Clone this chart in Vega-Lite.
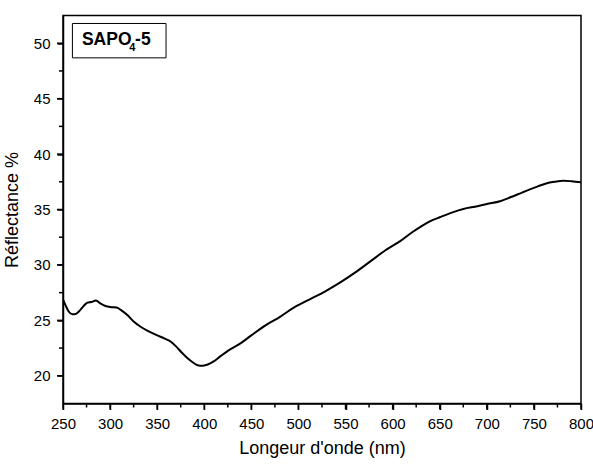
{
  "$schema": "https://vega.github.io/schema/vega-lite/v6.json",
  "width": 518,
  "height": 388,
  "autosize": {"type": "none"},
  "padding": {"left": 63, "top": 15.5, "right": 12, "bottom": 61.5},
  "background": "white",
  "datasets": {
    "xmajor": [{"v": 250}, {"v": 300}, {"v": 350}, {"v": 400}, {"v": 450}, {"v": 500}, {"v": 550}, {"v": 600}, {"v": 650}, {"v": 700}, {"v": 750}, {"v": 800}],
    "xminor": [{"v": 275}, {"v": 325}, {"v": 375}, {"v": 425}, {"v": 475}, {"v": 525}, {"v": 575}, {"v": 625}, {"v": 675}, {"v": 725}, {"v": 775}],
    "ymajor": [{"v": 20}, {"v": 25}, {"v": 30}, {"v": 35}, {"v": 40}, {"v": 45}, {"v": 50}],
    "yminor": [{"v": 22.5}, {"v": 27.5}, {"v": 32.5}, {"v": 37.5}, {"v": 42.5}, {"v": 47.5}]
  },
  "config": {
    "font": "Liberation Sans",
    "view": {"stroke": "black", "strokeWidth": 1.5},
    "axis": {
      "grid": false,
      "labelFont": "Liberation Sans",
      "labelFontSize": 15,
      "labelColor": "black",
      "titleFont": "Liberation Sans",
      "titleFontSize": 18,
      "titleFontWeight": "normal",
      "titleColor": "black"
    }
  },
  "layer": [
    {
      "data": {
        "values": [
          {"wl": 250, "r": 26.9}, {"wl": 253, "r": 26.3}, {"wl": 256, "r": 25.8},
          {"wl": 260, "r": 25.55}, {"wl": 264, "r": 25.6}, {"wl": 268, "r": 25.9},
          {"wl": 272, "r": 26.3}, {"wl": 276, "r": 26.6}, {"wl": 280, "r": 26.65},
          {"wl": 285, "r": 26.8}, {"wl": 290, "r": 26.5}, {"wl": 295, "r": 26.3},
          {"wl": 300, "r": 26.2}, {"wl": 307, "r": 26.15}, {"wl": 312, "r": 25.9},
          {"wl": 318, "r": 25.5}, {"wl": 325, "r": 24.9}, {"wl": 332, "r": 24.45},
          {"wl": 340, "r": 24.05}, {"wl": 350, "r": 23.65}, {"wl": 358, "r": 23.35},
          {"wl": 364, "r": 23.1}, {"wl": 370, "r": 22.65}, {"wl": 376, "r": 22.1},
          {"wl": 382, "r": 21.6}, {"wl": 388, "r": 21.2}, {"wl": 393, "r": 20.95},
          {"wl": 398, "r": 20.9}, {"wl": 403, "r": 21.0}, {"wl": 410, "r": 21.3},
          {"wl": 417, "r": 21.75}, {"wl": 425, "r": 22.25}, {"wl": 438, "r": 22.9},
          {"wl": 450, "r": 23.65}, {"wl": 465, "r": 24.55}, {"wl": 480, "r": 25.3},
          {"wl": 495, "r": 26.15}, {"wl": 512, "r": 26.9}, {"wl": 528, "r": 27.6},
          {"wl": 544, "r": 28.4}, {"wl": 560, "r": 29.3}, {"wl": 576, "r": 30.3},
          {"wl": 592, "r": 31.3}, {"wl": 608, "r": 32.15}, {"wl": 620, "r": 32.9},
          {"wl": 630, "r": 33.45}, {"wl": 640, "r": 33.95}, {"wl": 650, "r": 34.3},
          {"wl": 662, "r": 34.7}, {"wl": 675, "r": 35.05}, {"wl": 690, "r": 35.3},
          {"wl": 700, "r": 35.5}, {"wl": 714, "r": 35.75}, {"wl": 725, "r": 36.1},
          {"wl": 738, "r": 36.55}, {"wl": 750, "r": 36.95}, {"wl": 763, "r": 37.35},
          {"wl": 772, "r": 37.5}, {"wl": 781, "r": 37.6}, {"wl": 790, "r": 37.55},
          {"wl": 800, "r": 37.45}
        ]
      },
      "mark": {"type": "line", "color": "black", "strokeWidth": 2, "interpolate": "monotone", "clip": true},
      "encoding": {
        "x": {
          "field": "wl", "type": "quantitative",
          "scale": {"domain": [250, 800], "nice": false, "zero": false},
          "axis": {
            "title": "Longeur d'onde (nm)",
            "values": [250, 300, 350, 400, 450, 500, 550, 600, 650, 700, 750, 800],
            "domainColor": "#000000",
            "domainWidth": 1.5,
            "ticks": true,
            "tickColor": "#000000",
            "tickWidth": 1.5,
            "tickSize": 6,
            "labelPadding": 7,
            "labelFlush": false,
            "labelOverlap": false,
            "titlePadding": 8
          }
        },
        "y": {
          "field": "r", "type": "quantitative",
          "scale": {"domain": [17.5, 52.5], "nice": false, "zero": false},
          "axis": {
            "title": "Réflectance %",
            "values": [20, 25, 30, 35, 40, 45, 50],
            "domainColor": "#000000",
            "domainWidth": 1.5,
            "ticks": true,
            "tickColor": "#000000",
            "tickWidth": 1.5,
            "tickSize": 6,
            "labelPadding": 7,
            "labelOverlap": false,
            "titlePadding": 12
          }
        }
      }
    },
    {
      "data": {"name": "xmajor"},
      "mark": {"type": "rule", "color": "black", "strokeWidth": 1.5, "clip": false},
      "encoding": {"x": {"field": "v", "type": "quantitative"}, "y": {"datum": 17.5, "type": "quantitative"}, "y2": {"datum": 16.96}}
    },
    {
      "data": {"name": "xminor"},
      "mark": {"type": "rule", "color": "black", "strokeWidth": 1.5, "clip": false},
      "encoding": {"x": {"field": "v", "type": "quantitative"}, "y": {"datum": 17.5, "type": "quantitative"}, "y2": {"datum": 17.14}}
    },
    {
      "data": {"name": "ymajor"},
      "mark": {"type": "rule", "color": "black", "strokeWidth": 1.5, "clip": false},
      "encoding": {"y": {"field": "v", "type": "quantitative"}, "x": {"datum": 250, "type": "quantitative"}, "x2": {"datum": 243.6}}
    },
    {
      "data": {"name": "yminor"},
      "mark": {"type": "rule", "color": "black", "strokeWidth": 1.5, "clip": false},
      "encoding": {"y": {"field": "v", "type": "quantitative"}, "x": {"datum": 250, "type": "quantitative"}, "x2": {"datum": 245.75}}
    },
    {
      "data": {"values": [{"label": "SAPO"}]},
      "mark": {"type": "rect", "fill": "white", "stroke": "black", "strokeWidth": 1},
      "encoding": {
        "x": {"datum": 260, "type": "quantitative"},
        "x2": {"datum": 359.4},
        "y": {"datum": 51.78, "type": "quantitative"},
        "y2": {"datum": 48.68}
      }
    },
    {
      "data": {"values": [{"label": "SAPO"}]},
      "mark": {"type": "text", "fontWeight": "bold", "fontSize": 17.5, "align": "left", "baseline": "alphabetic", "fill": "black"},
      "encoding": {"text": {"field": "label"}, "x": {"datum": 270.1, "type": "quantitative"}, "y": {"datum": 49.86, "type": "quantitative"}}
    },
    {
      "data": {"values": [{"label": "4"}]},
      "mark": {"type": "text", "fontWeight": "bold", "fontSize": 11, "align": "left", "baseline": "alphabetic", "fill": "black"},
      "encoding": {"text": {"field": "label"}, "x": {"datum": 320.4, "type": "quantitative"}, "y": {"datum": 49.34, "type": "quantitative"}}
    },
    {
      "data": {"values": [{"label": "-5"}]},
      "mark": {"type": "text", "fontWeight": "bold", "fontSize": 17.5, "align": "left", "baseline": "alphabetic", "fill": "black"},
      "encoding": {"text": {"field": "label"}, "x": {"datum": 326.5, "type": "quantitative"}, "y": {"datum": 49.86, "type": "quantitative"}}
    }
  ]
}
